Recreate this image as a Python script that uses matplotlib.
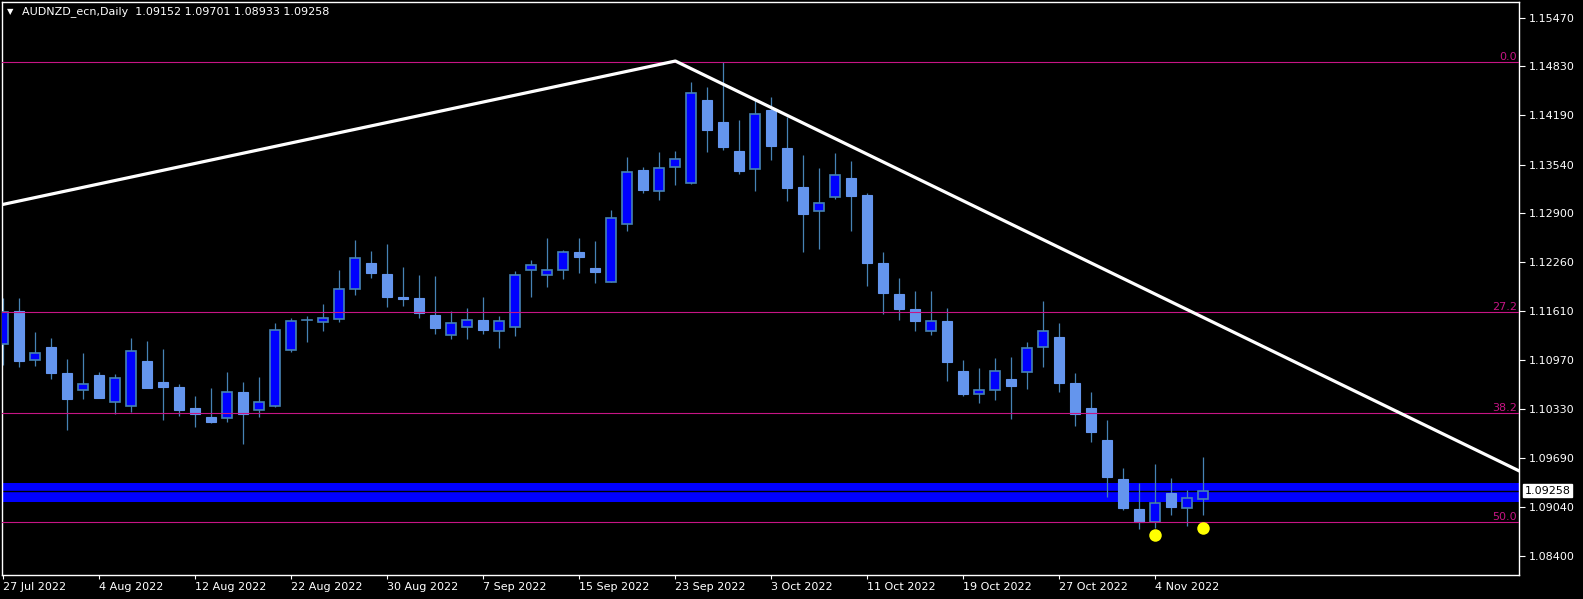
import matplotlib
matplotlib.use("Agg")
import matplotlib.pyplot as plt
from matplotlib.patches import Rectangle

# daily candles, AUDNZD 27 Jul 2022 .. 9 Nov 2022 (index 0 = 27 Jul)
opens = [1.11179, 1.11617, 1.10969, 1.11140, 1.10803, 1.10575, 1.10776, 1.10426,
         1.10373, 1.10960, 1.10684, 1.10619, 1.10343, 1.10225, 1.10208, 1.10553,
         1.10313, 1.10373, 1.11108, 1.11494, 1.11468, 1.11515, 1.11901, 1.12243,
         1.12102, 1.11800, 1.11787, 1.11564, 1.11305, 1.11410, 1.11498, 1.11358,
         1.11410, 1.12159, 1.12093, 1.12159, 1.12391, 1.12181, 1.12001, 1.12763,
         1.13468, 1.13196, 1.13511, 1.13301, 1.14387, 1.14098, 1.13717, 1.13477,
         1.14256, 1.13757, 1.13245, 1.12926, 1.13109, 1.13363, 1.13140, 1.12247,
         1.11840, 1.11643, 1.11350, 1.11485, 1.10829, 1.10523, 1.10575, 1.10724,
         1.10812, 1.11140, 1.11275, 1.10671, 1.10343, 1.09923, 1.09411, 1.09017,
         1.08842, 1.09227, 1.09034, 1.09152]
highs = [1.11783, 1.11783, 1.11337, 1.11258, 1.10986, 1.11065, 1.10816, 1.10789,
         1.11262, 1.11223, 1.11118, 1.10658, 1.10501, 1.10606, 1.10816, 1.10684,
         1.10750, 1.11459, 1.11525, 1.11551, 1.11708, 1.12155, 1.12549, 1.12404,
         1.12496, 1.12194, 1.12089, 1.12076, 1.11617, 1.11656, 1.11800, 1.11551,
         1.12142, 1.12286, 1.12575, 1.12417, 1.12575, 1.12536, 1.12943, 1.13639,
         1.13507, 1.13704, 1.13713, 1.14623, 1.14558, 1.14890, 1.14124, 1.14387,
         1.14426, 1.14168, 1.13665, 1.13494, 1.13691, 1.13586, 1.13162, 1.12391,
         1.12050, 1.11879, 1.11879, 1.11656, 1.10973, 1.10868, 1.10999, 1.11013,
         1.11210, 1.11748, 1.11459, 1.10803, 1.10553, 1.10185, 1.09555, 1.09358,
         1.09608, 1.09424, 1.09266, 1.09701]
lows = [1.10908, 1.10885, 1.10898, 1.10728, 1.10054, 1.10465, 1.10475, 1.10264,
        1.10290, 1.10605, 1.10185, 1.10242, 1.10097, 1.10150, 1.10159, 1.09870,
        1.10229, 1.10360, 1.11082, 1.11213, 1.11358, 1.11476, 1.11831, 1.12054,
        1.11673, 1.11682, 1.11529, 1.11315, 1.11249, 1.11249, 1.11315, 1.11131,
        1.11288, 1.11800, 1.11932, 1.12037, 1.12116, 1.11984, 1.11991, 1.12667,
        1.13170, 1.13078, 1.13275, 1.13288, 1.13708, 1.13734, 1.13419, 1.13196,
        1.13603, 1.13065, 1.12395, 1.12435, 1.13091, 1.12671, 1.11949, 1.11581,
        1.11502, 1.11358, 1.11305, 1.10701, 1.10504, 1.10413, 1.10452, 1.10202,
        1.10596, 1.10885, 1.10557, 1.10111, 1.09900, 1.09178, 1.09004, 1.08758,
        1.08763, 1.08942, 1.08798, 1.08933]
closes = [1.11600, 1.10964, 1.11061, 1.10806, 1.10465, 1.10654, 1.10478, 1.10733,
          1.11091, 1.10609, 1.10623, 1.10317, 1.10264, 1.10159, 1.10549, 1.10264,
          1.10418, 1.11363, 1.11481, 1.11494, 1.11521, 1.11901, 1.12308, 1.12119,
          1.11804, 1.11774, 1.11586, 1.11393, 1.11455, 1.11494, 1.11367, 1.11481,
          1.12085, 1.12217, 1.12155, 1.12387, 1.12330, 1.12129, 1.12834, 1.13438,
          1.13209, 1.13490, 1.13608, 1.14475, 1.13997, 1.13770, 1.13459, 1.14199,
          1.13787, 1.13236, 1.12894, 1.13031, 1.13398, 1.13130, 1.12251, 1.11857,
          1.11647, 1.11489, 1.11485, 1.10951, 1.10531, 1.10575, 1.10825, 1.10636,
          1.11127, 1.11350, 1.10675, 1.10260, 1.10032, 1.09441, 1.09034, 1.08842,
          1.09092, 1.09047, 1.09157, 1.09258]

date_labels = ["27 Jul 2022", "4 Aug 2022", "12 Aug 2022", "22 Aug 2022",
               "30 Aug 2022", "7 Sep 2022", "15 Sep 2022", "23 Sep 2022",
               "3 Oct 2022", "11 Oct 2022", "19 Oct 2022", "27 Oct 2022",
               "4 Nov 2022"]
price_ticks = [1.15470, 1.14830, 1.14190, 1.13540, 1.12900, 1.12260,
               1.11610, 1.10970, 1.10330, 1.09690, 1.09040, 1.08400]

# fibonacci retracement
fib_high = 1.14890
fib_low = 1.02808
fib_levels = [0.0, 27.2, 38.2, 50.0]

# trendline anchors (bar index, price)
trend_x = [-0.2, 42, 94.7]
trend_y = [1.13008, 1.14899, 1.09520]

# support zone and markers
zone_lo, zone_hi = 1.09113, 1.09358
dot_x = [72, 75]
dot_y = [1.08675, 1.08767]

BULL = "#0000FF"
BEAR = "#6495ED"
EDGE = "#4682B4"
FIB = "#C71585"

W, H = 1583, 599
fig = plt.figure(figsize=(W / 100, H / 100), dpi=100, facecolor="black")
ax = fig.add_axes([2 / W, 24 / H, 1517 / W, 573 / H], facecolor="black")

# zone (two blue strips with a thin black line at the last price)
ax.axhspan(zone_lo, zone_hi, color=BULL, lw=0, zorder=1)
ax.axhline(closes[-1], color="black", lw=1.0, zorder=1.5)

bw = 0.62
for i, (o, h, l, c) in enumerate(zip(opens, highs, lows, closes)):
    ax.plot([i, i], [l, h], color=EDGE, lw=0.9, zorder=2, solid_capstyle="butt")
    if c > o:
        ax.add_patch(Rectangle((i - bw / 2, o), bw, c - o, facecolor=BULL,
                               edgecolor=EDGE, lw=1.2, zorder=3))
    elif c < o:
        ax.add_patch(Rectangle((i - bw / 2, c), bw, o - c, facecolor=BEAR,
                               edgecolor=BEAR, lw=0.8, zorder=3))
    else:
        ax.plot([i - bw / 2, i + bw / 2], [c, c], color=EDGE, lw=1.2, zorder=3)

# fib levels
for lv in fib_levels:
    p = fib_high - (fib_high - fib_low) * lv / 100
    ax.axhline(p, color=FIB, lw=0.8, zorder=4)
    ax.text(0.9985, p, f"{lv:.1f}", color=FIB, fontsize=8, ha="right", va="bottom",
            transform=ax.get_yaxis_transform())

ax.plot(trend_x, trend_y, color="white", lw=2.3, zorder=5)
ax.plot(dot_x, dot_y, "o", color="#FFFF00", ms=9, mew=0, zorder=6)

ax.set_xlim(-0.08, 94.72)
ax.set_ylim(1.08150, 1.15674)

# axes styling
for s in ax.spines.values():
    s.set_color("white")
    s.set_linewidth(1.0)
ax.yaxis.tick_right()
ax.set_yticks(price_ticks)
ax.set_yticklabels([f"{p:.5f}" for p in price_ticks])
ax.tick_params(axis="y", colors="white", labelsize=8, length=4, width=0.8, pad=3)
ax.set_xticks(range(0, 6 * len(date_labels), 6))
ax.set_xticklabels(date_labels)
ax.tick_params(axis="x", colors="white", labelsize=8, length=3, width=0.8, pad=2)
for lbl in ax.get_xticklabels():
    lbl.set_ha("left")

# last price tag
ax.annotate(f"{closes[-1]:.5f}", xy=(1.0, closes[-1]),
            xycoords=("axes fraction", "data"), xytext=(4, 0),
            textcoords="offset points", va="center", ha="left", fontsize=8,
            color="black", annotation_clip=False,
            bbox=dict(boxstyle="square,pad=0.15", fc="white", ec="white"))

fig.text(7 / W, 1 - 12 / H, "\u25BC", color="white", fontsize=6, va="center")
fig.text(22 / W, 1 - 12 / H,
         f"AUDNZD_ecn,Daily  {opens[-1]:.5f} {highs[-1]:.5f} "
         f"{lows[-1]:.5f} {closes[-1]:.5f}",
         color="white", fontsize=8, va="center")

fig.savefig("out.png", dpi=100, facecolor="black")
